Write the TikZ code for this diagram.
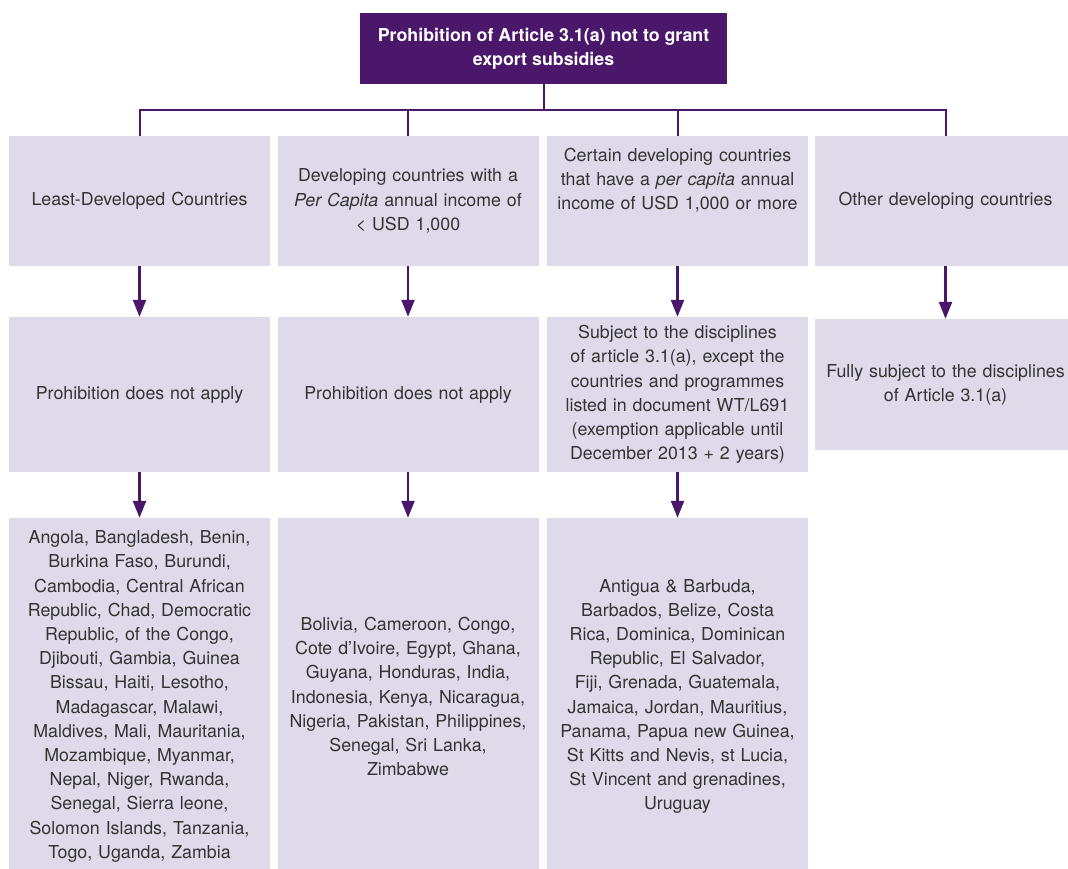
\documentclass[tikz,border=0pt]{standalone}
\usepackage{fontspec}
\setmainfont{TeX Gyre Heros}
\usetikzlibrary{arrows.meta}
\definecolor{wtopurple}{HTML}{4A176A}
\definecolor{cellgray}{HTML}{DEDAEA}
\definecolor{textgray}{HTML}{333333}

\begin{document}
\begin{tikzpicture}[x=1pt, y=-1pt,
	cell/.style={fill=cellgray, text=textgray, inner sep=0pt, minimum width=261pt, text width=258pt, align=center, font=\fontsize{17.8}{24.2}\selectfont},
	headbox/.style={fill=wtopurple, text=white, inner sep=0pt, minimum width=367pt, minimum height=71pt, align=center, font=\bfseries\fontsize{17.8}{24.2}\selectfont},
	tree/.style={draw=wtopurple, line width=2pt},
	flow/.style={draw=wtopurple, fill=wtopurple, line width=2.4pt, -{Triangle[width=13pt,length=17pt]}}]
	\useasboundingbox (0,0) rectangle (1068,868);
	
	%top box
	\node[headbox] (prohib) at (543.5,48.5) {Prohibition of Article 3.1(a) not to grant\\export subsidies};
	
	%country groups
	\node[cell, minimum height=130pt] (ldc) at (139.5,201) {Least-Developed Countries};
	\node[cell, minimum height=130pt] (low) at (408,201) {Developing countries with a\\\textit{Per Capita} annual income of\\< USD 1,000};
	\node[cell, minimum height=130pt] (high) at (677.5,201) {Certain developing countries\\that have a \textit{per capita} annual\\income of USD 1,000 or more\\[20pt]\mbox{}};
	\node[cell, minimum height=130pt] (other) at (945.5,201) {Other developing countries};
	
	%what applies
	\node[cell, minimum height=155pt] (noapp1) at (139.5,394.5) {Prohibition does not apply};
	\node[cell, minimum height=155pt] (noapp2) at (408,394.5) {Prohibition does not apply};
	\node[cell, minimum height=155pt] (subject) at (677.5,394.5) {Subject to the disciplines\\of article 3.1(a), except the\\countries and programmes\\listed in document WT/L691\\(exemption applicable until\\December 2013 + 2 years)};
	\node[cell, minimum height=131pt] (fully) at (945.5,384.5) {Fully subject to the disciplines\\of Article 3.1(a)};
	
	%country lists
	\node[cell, minimum height=357pt] (ldclist) at (139.5,696.5) {Angola, Bangladesh, Benin,\\Burkina Faso, Burundi,\\Cambodia, Central African\\Republic, Chad, Democratic\\Republic, of the Congo,\\Djibouti, Gambia, Guinea\\Bissau, Haiti, Lesotho,\\Madagascar, Malawi,\\Maldives, Mali, Mauritania,\\Mozambique, Myanmar,\\Nepal, Niger, Rwanda,\\Senegal, Sierra leone,\\Solomon Islands, Tanzania,\\Togo, Uganda, Zambia};
	\node[cell, minimum height=357pt] (lowlist) at (408,696.5) {Bolivia, Cameroon, Congo,\\Cote d’Ivoire, Egypt, Ghana,\\Guyana, Honduras, India,\\Indonesia, Kenya, Nicaragua,\\Nigeria, Pakistan, Philippines,\\Senegal, Sri Lanka,\\Zimbabwe};
	\node[cell, minimum height=357pt] (highlist) at (677.5,696.5) {Antigua \& Barbuda,\\Barbados, Belize, Costa\\Rica, Dominica, Dominican\\Republic, El Salvador,\\Fiji, Grenada, Guatemala,\\Jamaica, Jordan, Mauritius,\\Panama, Papua new Guinea,\\St Kitts and Nevis, st Lucia,\\St Vincent and grenadines,\\Uruguay};
	
	%tree lines
	\draw[tree] (prohib.south) -- ++(0,26) coordinate (bar);
	\draw[tree] (ldc.north) |- (bar) -| (other.north);
	\draw[tree] (low.north) -- (low.north |- bar);
	\draw[tree] (high.north) -- (high.north |- bar);
	
	%arrows
	\foreach \a/\b in {ldc/noapp1, low/noapp2, high/subject, other/fully, noapp1/ldclist, noapp2/lowlist, subject/highlist}{
		\draw[flow] (\a.south) -- (\b.north);
	}
\end{tikzpicture}
\end{document}
